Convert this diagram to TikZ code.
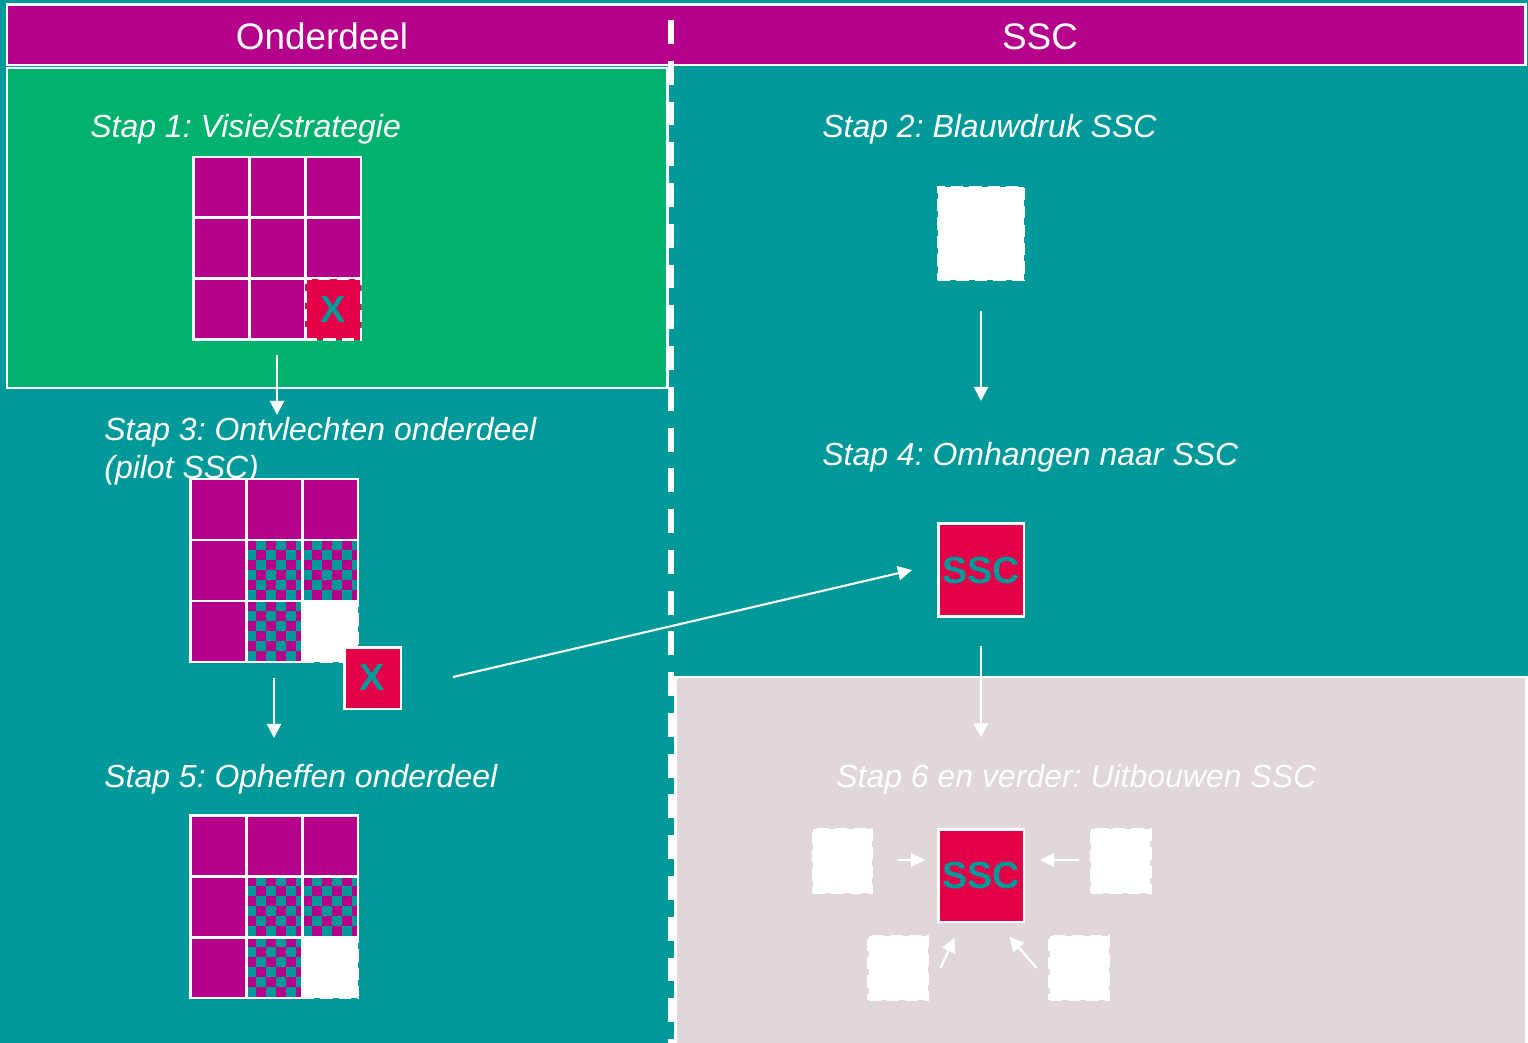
\documentclass[tikz,border=0pt]{standalone}
\usepackage{fontspec}
\setmainfont{Liberation Sans}
\usetikzlibrary{arrows.meta,positioning}
\frenchspacing

\definecolor{sscteal}{RGB}{0,153,153}
\definecolor{sscmagenta}{RGB}{181,0,140}
\definecolor{sscgreen}{RGB}{0,178,110}
\definecolor{sscred}{RGB}{228,0,72}
\definecolor{sscgray}{RGB}{223,215,216}

\tikzset{
  kop/.style={text=white, font=\fontsize{21}{25}\selectfont, anchor=base, inner sep=0pt},
  stap/.style={text=white, font=\itshape\fontsize{18.2}{21.7}\selectfont, inner sep=0pt},
  pijl/.style={white, line width=1.2pt, -{Triangle[width=8pt,length=8pt]}},
  vak/.style={draw=white, line width=1.7pt, minimum width=1.12cm, minimum height=1.22cm,
    inner sep=0pt, outer sep=0pt},
  vol/.style={vak, fill=sscmagenta},
  ruit/.style={vak, fill=sscteal, path picture={
      \foreach \i in {0,...,5} \foreach \j in {0,...,6} {
        \pgfmathtruncatemacro\k{mod(\i+\j,2)}
        \ifnum\k=0
          \fill[sscmagenta] ([shift={(\i*0.2cm,-\j*0.2cm)}]path picture bounding box.north west)
            rectangle ++(0.2cm,-0.2cm);
        \fi}}},
  leeg/.style={vak, fill=white, dash pattern=on 7pt off 3.5pt},
  kruis/.style={vak, fill=sscred, text=sscteal, font=\bfseries\fontsize{21.5}{25}\selectfont},
  blok/.style={minimum width=1.72cm, minimum height=1.86cm},
  klein/.style={minimum width=1.18cm, minimum height=1.28cm},
}

\begin{document}
\begin{tikzpicture}[x=0.02cm, y=-0.02cm]
  \fill[sscteal] (0,0) rectangle (1528,1043);
  \useasboundingbox (0,0) rectangle (1528,1043);

  % kopbalk en vlakken
  \filldraw[fill=sscmagenta, draw=white, line width=1.7pt] (7,5) rectangle (1525,65);
  \filldraw[fill=sscgreen, draw=white, line width=1.7pt] (7,68) rectangle (667,388);
  \filldraw[fill=sscgray, draw=white, line width=1.7pt] (675,677) rectangle (1526,1060);
  \draw[white, line width=3.4pt, dash pattern=on 13.6pt off 9.6pt] (671,20) -- (671,1043);

  \node[kop] (kopL) at (322,50) {Onderdeel};
  \node[kop] (kopR) at (1040,50) {SSC};

  % stappen
  \node[stap, anchor=base west] (stap1) at (90,138) {Stap 1: Visie/strategie};
  \node[stap, anchor=north west, align=left] (stap3) at (104,417) {Stap 3: Ontvlechten onderdeel\\(pilot SSC)};
  \node[stap, anchor=base west] (stap5) at (104,787) {Stap 5: Opheffen onderdeel};
  \node[stap, anchor=base west] (stap2) at (822,138) {Stap 2: Blauwdruk SSC};
  \node[stap, anchor=base west] (stap4) at (822,466) {Stap 4: Omhangen naar SSC};
  \node[stap, anchor=base west, text=white!96!sscgray] (stap6) at (836,787) {Stap 6 en verder: Uitbouwen SSC};

  % onderdeel: stap 1
  \foreach \c/\r in {0/0,1/0,2/0,0/1,1/1,2/1,0/2,1/2}
    \node[vol] (g1-\c\r) at ({221+\c*56},{187.5+\r*61}) {};
  \node[kruis, dash pattern=on 7pt off 3.5pt] (g1-22) at (333,309.5) {X};

  % onderdeel: stap 3
  \foreach \c/\r/\s in {0/0/vol,1/0/vol,2/0/vol,0/1/vol,1/1/ruit,2/1/ruit,0/2/vol,1/2/ruit,2/2/leeg}
    \node[style=\s] (g3-\c\r) at ({218+\c*56},{509.5+\r*61}) {};
  \node[kruis, minimum width=1.14cm, minimum height=1.24cm] (xbox) at (372.5,678) {X};

  % onderdeel: stap 5
  \foreach \c/\r/\s in {0/0/vol,1/0/vol,2/0/vol,0/1/vol,1/1/ruit,2/1/ruit,0/2/vol,1/2/ruit,2/2/leeg}
    \node[style=\s] (g5-\c\r) at ({218+\c*56},{845.5+\r*61}) {};

  % SSC kolom
  \node[leeg, blok] (ontwerp) at (981,233.5) {};
  \node[kruis, blok] (ssc4) at (981,570) {SSC};
  \node[kruis, blok] (ssc6) at (981,875.5) {SSC};
  \node[leeg, klein] (bl) at (842.5,861) {};
  \node[leeg, klein] (br) at (1120.5,861) {};
  \node[leeg, klein] (onl) at (898,968) {};
  \node[leeg, klein] (onr) at (1079,968) {};

  % pijlen
  \draw[pijl] ([shift={(0,15)}]g1-12.south) -- ([shift={(0,75)}]g1-12.south);
  \draw[pijl] ([shift={(0,16)}]g3-12.south) -- ([shift={(0,76)}]g3-12.south);
  \draw[pijl] ([shift={(52,-1)}]xbox.east) -- ([shift={(-26,0)}]ssc4.west);
  \draw[pijl] ([shift={(0,31)}]ontwerp.south) -- ([shift={(0,121)}]ontwerp.south);
  \draw[pijl] ([shift={(0,30)}]ssc4.south) -- ([shift={(0,121)}]ssc4.south);
  \draw[pijl] ([shift={(26,-1)}]bl.east) -- ([shift={(53,-1)}]bl.east);
  \draw[pijl] ([shift={(-12,-1)}]br.west) -- ([shift={(-51,-1)}]br.west);
  \draw[pijl] ([shift={(13,0)}]onl.east) -- ([shift={(27,-30)}]onl.east);
  \draw[pijl] ([shift={(-13,0)}]onr.west) -- ([shift={(-40,-31)}]onr.west);
\end{tikzpicture}
\end{document}
